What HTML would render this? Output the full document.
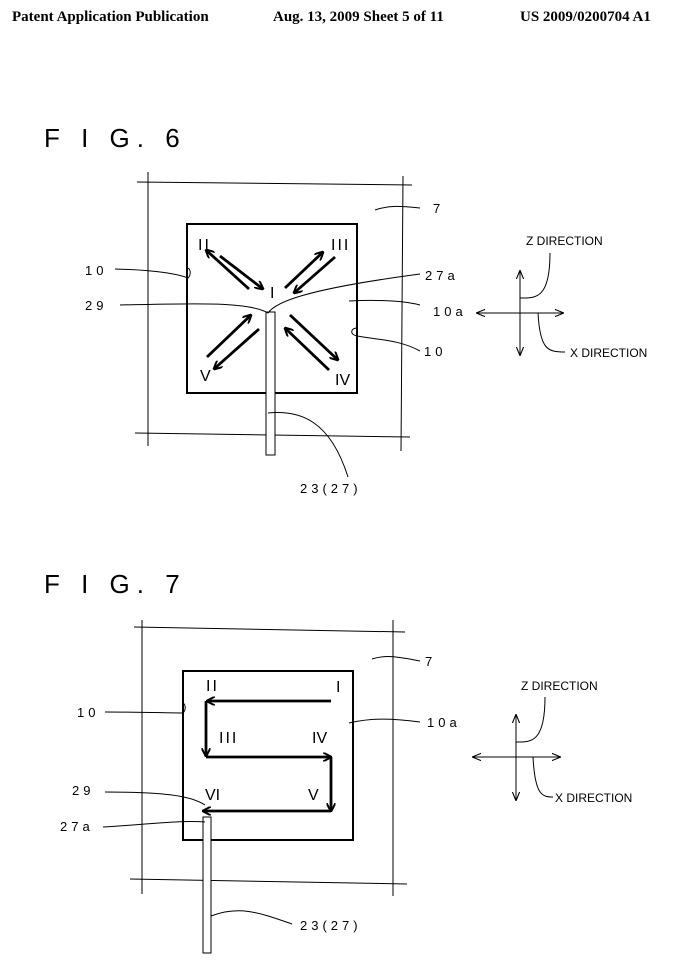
<!DOCTYPE html>
<html><head><meta charset="utf-8"><style>
html,body{margin:0;padding:0;background:#fff;}
svg{display:block;}
text{font-family:"Liberation Sans",sans-serif;fill:#000;}
.h{font-family:"Liberation Serif",serif;font-weight:bold;font-size:15px;}
.n{font-size:13px;letter-spacing:4px;}
.d{font-size:12px;font-family:"Liberation Sans Narrow","Liberation Sans",sans-serif;}
.r{font-size:16px;font-family:"Liberation Sans Narrow","Liberation Sans",sans-serif;}
</style></head><body>
<svg width="681" height="963" viewBox="0 0 681 963" xmlns="http://www.w3.org/2000/svg">
<defs>
<marker id="a" viewBox="0 0 10 10" refX="9" refY="5" markerWidth="9" markerHeight="9" orient="auto-start-reverse" markerUnits="userSpaceOnUse"><path d="M0,0 L10,5 L0,10" fill="none" stroke="#000" stroke-width="2.2"/></marker>
<marker id="t" viewBox="0 0 10 10" refX="9" refY="5" markerWidth="9" markerHeight="9" orient="auto-start-reverse" markerUnits="userSpaceOnUse"><path d="M0,1 L10,5 L0,9" fill="none" stroke="#000" stroke-width="1.2"/></marker>
</defs>
<text class="h" x="12" y="21">Patent Application Publication</text>
<text class="h" x="273" y="21">Aug. 13, 2009  Sheet 5 of 11</text>
<text class="h" x="520" y="21">US 2009/0200704 A1</text>

<text x="44" y="147" style="font-size:26px;letter-spacing:7px">F I G. 6</text>
<text x="44" y="593" style="font-size:26px;letter-spacing:7px">F I G. 7</text>

<g stroke="#000" fill="none" stroke-width="1">
<!-- FIG 6 -->
<line x1="137" y1="182" x2="412" y2="185"/>
<line x1="148" y1="172" x2="148" y2="446"/>
<line x1="403" y1="176" x2="401" y2="451"/>
<line x1="135" y1="433" x2="410" y2="437"/>
<rect x="187" y="224" width="170" height="169" stroke-width="2"/>
<rect x="266" y="312" width="9" height="143" fill="#fff"/>
<path d="M120,305 C200,303 250,302 268,313 C275,303 300,290 420,274"/>
<path d="M115,269 C150,270 175,273 188,278 c3,-3 3,-8 0,-10"/>
<path d="M349,301 C370,300 400,300 420,305"/>
<path d="M357,328 c-6,0 -8,6 0,8 C380,340 400,340 420,351"/>
<path d="M268,413 C300,410 330,420 348,477"/>
<path d="M375,210 C390,205 400,206 420,208"/>
<g stroke-width="2.8">
<line x1="220" y1="256" x2="263" y2="289" marker-end="url(#a)"/>
<line x1="249" y1="289" x2="206" y2="250" marker-end="url(#a)"/>
<line x1="285" y1="288" x2="323" y2="252" marker-end="url(#a)"/>
<line x1="335" y1="257" x2="294" y2="293" marker-end="url(#a)"/>
<line x1="207" y1="357" x2="251" y2="315" marker-end="url(#a)"/>
<line x1="259" y1="329" x2="214" y2="369" marker-end="url(#a)"/>
<line x1="290" y1="315" x2="338" y2="360" marker-end="url(#a)"/>
<line x1="329" y1="370" x2="285" y2="328" marker-end="url(#a)"/>
</g>
<line x1="477" y1="313" x2="563" y2="313" marker-start="url(#t)" marker-end="url(#t)"/>
<line x1="520" y1="271" x2="520" y2="355" marker-start="url(#t)" marker-end="url(#t)"/>
<path d="M520,298 C535,298 550,300 550,253"/>
<path d="M538,313 C540,350 548,352 565,352"/>
<!-- FIG 7 -->
<line x1="134" y1="627" x2="405" y2="632"/>
<line x1="142" y1="620" x2="142" y2="894"/>
<line x1="393" y1="620" x2="393" y2="896"/>
<line x1="130" y1="879" x2="407" y2="884"/>
<rect x="183" y="671" width="170" height="169" stroke-width="2"/>
<rect x="203" y="817" width="8" height="136" fill="#fff"/>
<path d="M105,712 C140,712 170,713 183,713 c3,-3 3,-8 0,-10"/>
<path d="M105,792 C160,792 190,795 205,805"/>
<path d="M103,827 C140,825 180,820 205,822"/>
<path d="M211,916 C240,905 260,913 292,924"/>
<path d="M349,723 C370,718 390,718 420,722"/>
<path d="M372,659 C385,655 395,656 420,661"/>
<g stroke-width="2.8">
<line x1="331" y1="701" x2="207" y2="701" marker-end="url(#a)"/>
<line x1="206" y1="701" x2="206" y2="756" marker-end="url(#a)"/>
<line x1="206" y1="757" x2="331" y2="757" marker-end="url(#a)"/>
<line x1="331" y1="757" x2="331" y2="811" marker-end="url(#a)"/>
<line x1="331" y1="811" x2="203" y2="811" marker-end="url(#a)"/>
</g>
<line x1="473" y1="757" x2="560" y2="757" marker-start="url(#t)" marker-end="url(#t)"/>
<line x1="516" y1="715" x2="516" y2="800" marker-start="url(#t)" marker-end="url(#t)"/>
<path d="M516,742 C530,742 545,744 545,697"/>
<path d="M533,757 C535,795 542,797 553,797"/>
</g>

<g class="r">
<text x="198" y="250" style="letter-spacing:2px">II</text>
<text x="331" y="250" style="letter-spacing:2px">III</text>
<text x="270" y="298">I</text>
<text x="200" y="381">V</text>
<text x="335" y="385">IV</text>
<text x="206" y="691" style="letter-spacing:2px">II</text>
<text x="336" y="692">I</text>
<text x="219" y="743" style="letter-spacing:2px">III</text>
<text x="312" y="743">IV</text>
<text x="308" y="800">V</text>
<text x="205" y="800">VI</text>
</g>
<g class="d">
<text x="526" y="245">Z DIRECTION</text>
<text x="570" y="357">X DIRECTION</text>
<text x="521" y="690">Z DIRECTION</text>
<text x="555" y="802">X DIRECTION</text>
</g>
<g class="n">
<text x="85" y="275">10</text>
<text x="85" y="310">29</text>
<text x="425" y="280">27a</text>
<text x="433" y="316">10a</text>
<text x="424" y="356">10</text>
<text x="433" y="213">7</text>
<text x="300" y="493">23(27)</text>
<text x="77" y="717">10</text>
<text x="72" y="795">29</text>
<text x="60" y="831">27a</text>
<text x="427" y="727">10a</text>
<text x="425" y="666">7</text>
<text x="300" y="930">23(27)</text>
</g>
</svg>
</body></html>
